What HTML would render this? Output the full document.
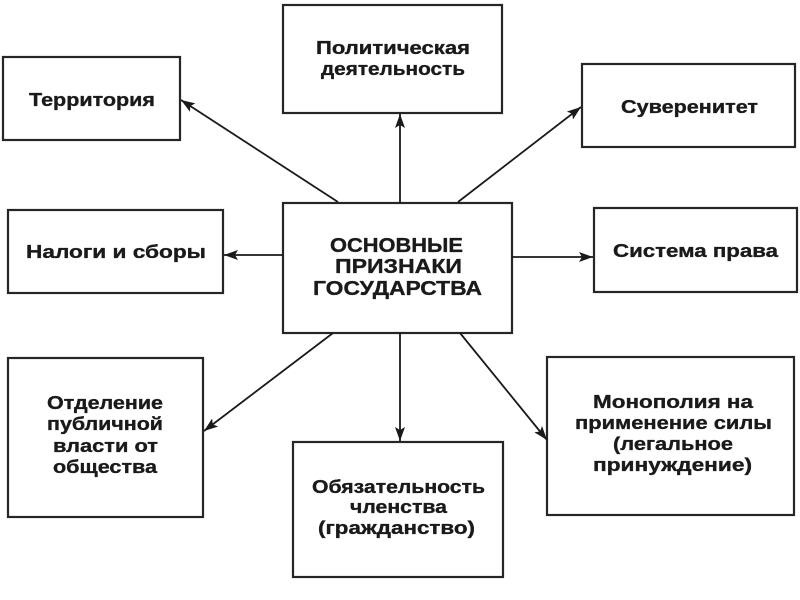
<!DOCTYPE html>
<html>
<head>
<meta charset="utf-8">
<style>
html,body{margin:0;padding:0;background:#fff;}
svg{display:block;}
text{font-family:"Liberation Sans","DejaVu Sans",sans-serif;font-weight:bold;fill:#1a1a1a;font-size:18.5px;stroke:#1a1a1a;stroke-width:0.35px;}
.c{font-size:20.5px;}
</style>
</head>
<body>
<svg width="800" height="600" viewBox="0 0 800 600" xmlns="http://www.w3.org/2000/svg">
<defs>
<marker id="ah" markerWidth="16" markerHeight="10" refX="14" refY="5" orient="auto" markerUnits="userSpaceOnUse">
<path d="M0,0 L14,5 L0,10 L3,5 Z" fill="#1a1a1a"/>
</marker>
</defs>
<g fill="none" stroke="#262626" stroke-width="2.2">
<rect x="3" y="57" width="177" height="83"/>
<rect x="283" y="5" width="219" height="108"/>
<rect x="582" y="64" width="213" height="83"/>
<rect x="8" y="210" width="215" height="83"/>
<rect x="283" y="203" width="229" height="130"/>
<rect x="594" y="208" width="203" height="84"/>
<rect x="8" y="358" width="195" height="159"/>
<rect x="293" y="442" width="210" height="135"/>
<rect x="547" y="357" width="247" height="158"/>
</g>
<g stroke="#1a1a1a" stroke-width="1.8" fill="none" marker-end="url(#ah)">
<line x1="338" y1="202" x2="181" y2="100"/>
<line x1="400" y1="203" x2="400" y2="114"/>
<line x1="458" y1="202" x2="581" y2="107"/>
<line x1="283" y1="255" x2="224" y2="255"/>
<line x1="512" y1="257" x2="593" y2="257"/>
<line x1="333" y1="333" x2="204" y2="431"/>
<line x1="400" y1="333" x2="400" y2="441"/>
<line x1="460" y1="333" x2="547" y2="440"/>
</g>
<text x="29" y="106" textLength="126" lengthAdjust="spacingAndGlyphs">Территория</text>
<text x="316" y="54" textLength="154" lengthAdjust="spacingAndGlyphs">Политическая</text>
<text x="321" y="75" textLength="144" lengthAdjust="spacingAndGlyphs">деятельность</text>
<text x="621" y="113" textLength="137" lengthAdjust="spacingAndGlyphs">Суверенитет</text>
<text x="26" y="258" textLength="180" lengthAdjust="spacingAndGlyphs">Налоги и сборы</text>
<text x="613" y="257" textLength="165" lengthAdjust="spacingAndGlyphs">Система права</text>
<text class="c" x="330" y="252" textLength="133" lengthAdjust="spacingAndGlyphs">ОСНОВНЫЕ</text>
<text class="c" x="335" y="273" textLength="127" lengthAdjust="spacingAndGlyphs">ПРИЗНАКИ</text>
<text class="c" x="313" y="295" textLength="169" lengthAdjust="spacingAndGlyphs">ГОСУДАРСТВА</text>
<text x="47" y="409" textLength="116" lengthAdjust="spacingAndGlyphs">Отделение</text>
<text x="47" y="430" textLength="116" lengthAdjust="spacingAndGlyphs">публичной</text>
<text x="53" y="452" textLength="105" lengthAdjust="spacingAndGlyphs">власти от</text>
<text x="53" y="473" textLength="104" lengthAdjust="spacingAndGlyphs">общества</text>
<text x="312" y="493" textLength="173" lengthAdjust="spacingAndGlyphs">Обязательность</text>
<text x="350" y="513" textLength="97" lengthAdjust="spacingAndGlyphs">членства</text>
<text x="318" y="534" textLength="157" lengthAdjust="spacingAndGlyphs">(гражданство)</text>
<text x="593" y="408" textLength="160" lengthAdjust="spacingAndGlyphs">Монополия на</text>
<text x="575" y="429" textLength="197" lengthAdjust="spacingAndGlyphs">применение силы</text>
<text x="613" y="450" textLength="120" lengthAdjust="spacingAndGlyphs">(легальное</text>
<text x="593" y="471" textLength="159" lengthAdjust="spacingAndGlyphs">принуждение)</text>
</svg>
</body>
</html>
